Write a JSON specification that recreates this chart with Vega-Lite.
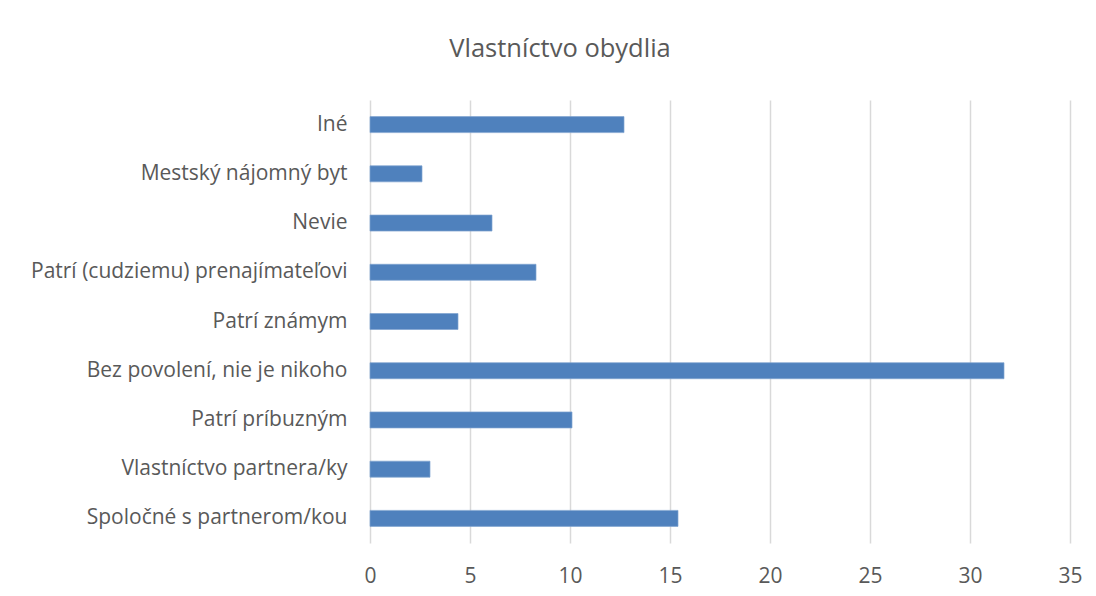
{
  "$schema": "https://vega.github.io/schema/vega-lite/v6.json",
  "autosize": "none",
  "width": 700,
  "height": 443,
  "padding": {"left": 370, "top": 100, "right": 26, "bottom": 53},
  "background": "white",
  "title": {
    "text": "Vlastníctvo obydlia",
    "font": "Open Sans",
    "fontSize": 25.5,
    "fontWeight": "normal",
    "color": "#595959",
    "anchor": "middle",
    "dx": -160,
    "baseline": "alphabetic",
    "offset": 18
  },
  "data": {
    "values": [
      {"kategoria": "Iné", "hodnota": 12.7},
      {"kategoria": "Mestský nájomný byt", "hodnota": 2.6},
      {"kategoria": "Nevie", "hodnota": 6.1},
      {"kategoria": "Patrí (cudziemu) prenajímateľovi", "hodnota": 8.3},
      {"kategoria": "Patrí známym", "hodnota": 4.4},
      {"kategoria": "Bez povolení, nie je nikoho", "hodnota": 31.7},
      {"kategoria": "Patrí príbuzným", "hodnota": 10.1},
      {"kategoria": "Vlastníctvo partnera/ky", "hodnota": 3.0},
      {"kategoria": "Spoločné s partnerom/kou", "hodnota": 15.4}
    ]
  },
  "mark": {"type": "bar", "color": "#4F81BD", "stroke": "#7FA3D0", "strokeWidth": 0.7},
  "encoding": {
    "y": {
      "field": "kategoria",
      "type": "nominal",
      "sort": null,
      "scale": {"paddingInner": 0.675, "paddingOuter": 0.3375},
      "axis": {
        "title": null,
        "domain": false,
        "ticks": false,
        "tickSize": 0,
        "grid": false,
        "labelFont": "Open Sans",
        "labelFontSize": 21,
        "labelColor": "#595959",
        "labelPadding": 23,
        "labelLimit": 400
      }
    },
    "x": {
      "field": "hodnota",
      "type": "quantitative",
      "scale": {"domain": [0, 35], "nice": false},
      "axis": {
        "title": null,
        "values": [0, 5, 10, 15, 20, 25, 30, 35],
        "domain": false,
        "ticks": false,
        "tickSize": 0,
        "grid": true,
        "gridColor": "#D9D9D9",
        "gridWidth": 1.5,
        "labelFont": "Open Sans",
        "labelFontSize": 21,
        "labelColor": "#595959",
        "labelBaseline": "alphabetic",
        "labelPadding": 39,
        "labelFlush": false
      }
    }
  },
  "config": {"view": {"stroke": null}}
}
